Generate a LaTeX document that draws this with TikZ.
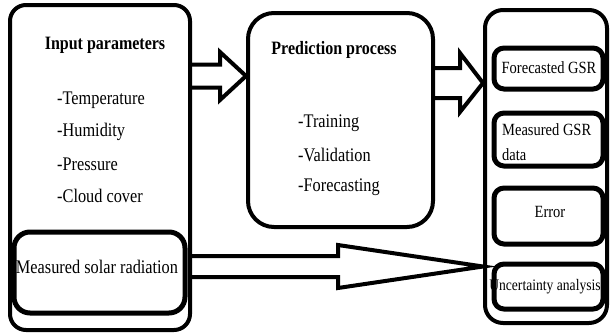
\documentclass[tikz,border=0pt]{standalone}
\usepackage{fontspec}
\usepackage{graphicx}
\setmainfont{Liberation Serif}
\usetikzlibrary{calc}
% slightly tall lettering
\newcommand\tallt[1]{\scalebox{1}[1.18]{#1}}
\begin{document}
\begin{tikzpicture}[x=1pt,y=-1pt,
  box/.style={draw,line width=4pt,rounded corners=#1,inner sep=0pt},
  inbox/.style={draw,line width=5pt,rounded corners=#1,inner sep=0pt},
  blockarrow/.style={draw,line width=4pt,line join=miter,miter limit=20},
  big/.style={font=\fontsize{16.3}{20}\selectfont,inner sep=0pt},
  small/.style={font=\fontsize{14.5}{18}\selectfont,inner sep=0pt},
  title/.style={big,font=\fontsize{16}{20}\selectfont\bfseries}]
\useasboundingbox (0,0) rectangle (610,335);

% ---- input side ----
\node[title] (tin) at (105,45) {\tallt{Input parameters}};
\node[big,anchor=west] (p1) at (57,100) {\tallt{-Temperature}};
\node[big,anchor=west] (p2) at (57,132) {\tallt{-Humidity}};
\node[big,anchor=west] (p3) at (57,164) {\tallt{-Pressure}};
\node[big,anchor=west] (p4) at (57,196) {\tallt{-Cloud cover}};
\node[big] (tsol) at (97,267) {\tallt{Measured solar radiation}};
\node[box=16pt,minimum width=180pt,minimum height=325pt] (input) at (100,167.5) {};
\node[inbox=16pt,minimum width=171pt,minimum height=81pt] (solar) at (99.5,272.5) {};

% ---- prediction process ----
\node[title] (tpred) at (334,50) {\tallt{Prediction process}};
\node[big,anchor=west] (s1) at (298,123) {\tallt{-Training}};
\node[big,anchor=west] (s2) at (298,155) {\tallt{-Validation}};
\node[big,anchor=west] (s3) at (298,187) {\tallt{-Forecasting}};
\node[box=26pt,minimum width=185pt,minimum height=214pt] (pred) at (340.5,120) {};

% ---- output side ----
\node[small] (t1) at (549,68) {\tallt{Forecasted GSR}};
\node[small,anchor=west] (t2a) at (502,130) {\tallt{Measured GSR}};
\node[small,anchor=west] (t2b) at (502,155) {\tallt{data}};
\node[small] (t3) at (550,212) {\tallt{Error}};
\node[small,font=\fontsize{13.6}{18}\selectfont] (t4) at (545,287) {\tallt{Uncertainty analysis}};
\node[box=18pt,minimum width=122pt,minimum height=313pt] (output) at (546,166.5) {};
\node[inbox=10pt,minimum width=109pt,minimum height=41pt] (fgsr) at (548.5,68.5) {};
\node[inbox=10pt,minimum width=109pt,minimum height=53pt] (mgsr) at (548.5,139.5) {};
\node[inbox=10pt,minimum width=109pt,minimum height=56pt] (err) at (548.5,216) {};
\node[inbox=10pt,minimum width=109pt,minimum height=45pt] (unc) at (548.5,286.5) {};

% ---- block arrows ----
\coordinate (a1) at (0,76);
\coordinate (a2) at (0,83);
\coordinate (a3) at (0,266.5);
\draw[blockarrow] ($(input.east |- a1)+(0,-11.5)$) -- (220,64.5) -- (220,52)
  -- (pred.west |- a1) -- (220,100) -- (220,87.5) -- ($(input.east |- a1)+(0,11.5)$);
\draw[blockarrow] ($(pred.east |- a2)+(0,-15)$) -- (460,68) -- (460,53)
  -- (output.west |- a2) -- (460,112) -- (460,98) -- ($(pred.east |- a2)+(0,15)$);
\draw[blockarrow] ($(input.east |- a3)+(0,-10.5)$) -- (338,256) -- (338,245)
  -- (output.west |- a3) -- (338,288) -- (338,277) -- ($(input.east |- a3)+(0,10.5)$);
\end{tikzpicture}
\end{document}
